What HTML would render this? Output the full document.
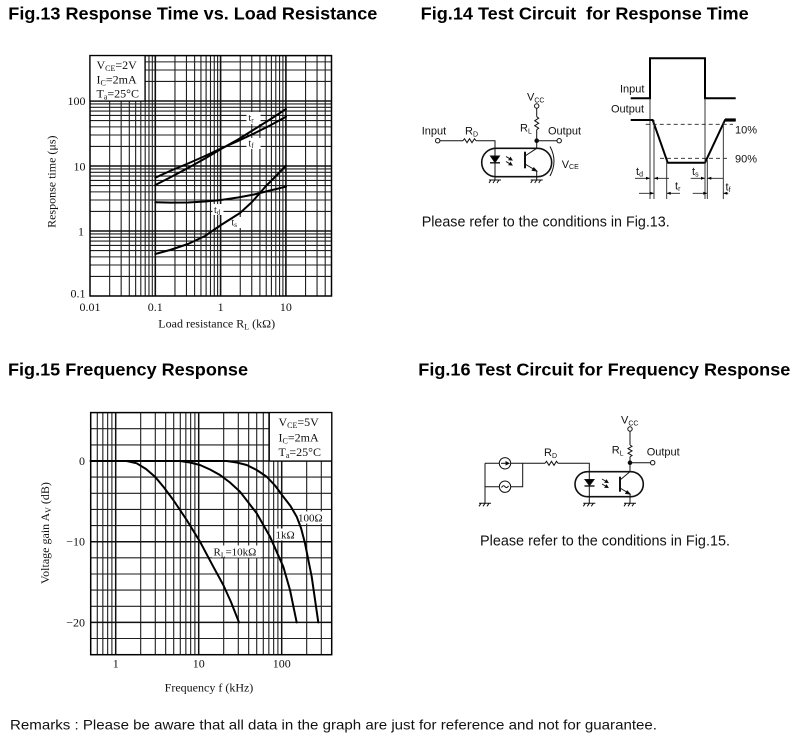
<!DOCTYPE html>
<html><head><meta charset="utf-8"><style>
html,body{margin:0;padding:0;background:#fff;}
svg{display:block;}
.t{font-family:"Liberation Sans",Arial,sans-serif;font-weight:bold;font-size:17.5px;fill:#000;}
.s{font-family:"Liberation Serif","Times New Roman",serif;font-size:12px;fill:#111;}
.a{font-family:"Liberation Sans",Arial,sans-serif;font-size:11px;fill:#111;}
.g{stroke:#1e1e1e;stroke-width:1.1;fill:none;}
.c{stroke:#000;stroke-width:2;fill:none;stroke-linejoin:round;stroke-linecap:round;}
.w{stroke:#111;stroke-width:1;fill:none;}
</style></head><body>
<svg width="800" height="742" viewBox="0 0 800 742" xmlns="http://www.w3.org/2000/svg">
<rect width="800" height="742" fill="#fff"/>

<!-- Titles -->
<text class="t" x="8.3" y="19.3" textLength="369" lengthAdjust="spacingAndGlyphs">Fig.13 Response Time vs. Load Resistance</text>
<text class="t" x="420.7" y="19.3" textLength="328" lengthAdjust="spacingAndGlyphs" xml:space="preserve">Fig.14 Test Circuit  for Response Time</text>
<text class="t" x="8" y="375.3" textLength="240" lengthAdjust="spacingAndGlyphs">Fig.15 Frequency Response</text>
<text class="t" x="418.3" y="375.5" textLength="372" lengthAdjust="spacingAndGlyphs">Fig.16 Test Circuit for Frequency Response</text>

<!-- ================= FIG 13 ================= -->
<g class="g">
<path d="M109.66 55.6V296M121.16 55.6V296M129.31 55.6V296M135.64 55.6V296M140.81 55.6V296M145.19 55.6V296M148.97 55.6V296M152.31 55.6V296M174.96 55.6V296M186.46 55.6V296M194.61 55.6V296M200.94 55.6V296M206.11 55.6V296M210.49 55.6V296M214.27 55.6V296M217.61 55.6V296M240.26 55.6V296M251.76 55.6V296M259.91 55.6V296M266.24 55.6V296M271.41 55.6V296M275.79 55.6V296M279.57 55.6V296M282.91 55.6V296M305.56 55.6V296M317.06 55.6V296M325.21 55.6V296"/>
<path d="M90 276.43H331.5M90 264.99H331.5M90 256.87H331.5M90 250.57H331.5M90 245.42H331.5M90 241.07H331.5M90 237.3H331.5M90 233.97H331.5M90 211.43H331.5M90 199.99H331.5M90 191.87H331.5M90 185.57H331.5M90 180.42H331.5M90 176.07H331.5M90 172.3H331.5M90 168.97H331.5M90 146.43H331.5M90 134.99H331.5M90 126.87H331.5M90 120.57H331.5M90 115.42H331.5M90 111.07H331.5M90 107.3H331.5M90 103.97H331.5M90 81.43H331.5M90 69.99H331.5M90 61.87H331.5"/>
</g>
<g stroke="#111" stroke-width="1.6" fill="none">
<path d="M155.3 55.6V296M220.6 55.6V296M285.9 55.6V296M90 231H331.5M90 166H331.5M90 101H331.5"/>
</g>
<rect x="90" y="55.6" width="241.5" height="240.4" fill="none" stroke="#000" stroke-width="1.5"/>
<!-- legend -->
<rect x="90" y="55.6" width="55" height="45.4" fill="#fff" stroke="#000" stroke-width="1.2"/>
<text class="s" x="96.5" y="69">V<tspan font-size="8" dy="2">CE</tspan><tspan dy="-2">=2V</tspan></text>
<text class="s" x="96.5" y="83.5">I<tspan font-size="8" dy="2">C</tspan><tspan dy="-2">=2mA</tspan></text>
<text class="s" x="96.5" y="97.5">T<tspan font-size="8" dy="2">a</tspan><tspan dy="-2">=25°C</tspan></text>
<!-- curve label boxes (under curves) -->
<rect x="246.5" y="112" width="14" height="12" fill="#fff"/>
<rect x="246.5" y="138" width="14" height="11" fill="#fff"/>
<rect x="212.5" y="204" width="11" height="11" fill="#fff"/>
<rect x="230" y="217" width="11" height="11" fill="#fff"/>
<!-- curves -->
<polyline class="c" points="155.3,185 170,177.5 188,168 205,158.5 221,149 238,139.5 254,129.5 270,119.5 286,109"/>
<polyline class="c" points="155.3,177.7 170,171 188,163.5 205,156 221,148.5 238,141 254,133.5 270,125.5 286,116.7"/>
<polyline class="c" points="155.3,202.3 170,202.6 188,202.5 205,201.5 221,200 238,197.5 254,194.5 270,190.5 286,186.7"/>
<polyline class="c" points="155.3,254 170,250 188,244 205,236 221,225 240,213 252,202 266,186 276,176 286,165.7"/>
<!-- curve labels -->
<text class="s" x="248.5" y="121" style="font-size:10px">t<tspan font-size="7" dy="1.5">r</tspan></text>
<text class="s" x="248.5" y="146.5" style="font-size:10px">t<tspan font-size="7" dy="1.5">f</tspan></text>
<text class="s" x="214" y="213" style="font-size:10px">t<tspan font-size="7" dy="1.5">d</tspan></text>
<text class="s" x="231.5" y="225.5" style="font-size:10px">t<tspan font-size="7" dy="1.5">s</tspan></text>
<!-- ticks -->
<g class="s" text-anchor="end">
<text x="85.5" y="105">100</text>
<text x="85.5" y="170.5">10</text>
<text x="84" y="235.5">1</text>
<text x="85.5" y="297.5">0.1</text>
</g>
<g class="s" text-anchor="middle">
<text x="90" y="311">0.01</text>
<text x="155.3" y="311">0.1</text>
<text x="220.6" y="311">1</text>
<text x="285.9" y="311">10</text>
<text x="216.7" y="327.5">Load resistance R<tspan font-size="8" dy="2">L</tspan><tspan dy="-2"> (kΩ)</tspan></text>
</g>
<text class="s" text-anchor="middle" transform="translate(55.7,181.7) rotate(-90)">Response time (μs)</text>

<!-- ================= FIG 14 ================= -->
<g class="w">
<circle cx="437.7" cy="140.7" r="2.2" fill="#fff"/>
<path d="M440 140.7H463"/>
<path d="M463 140.7l1.5 -2l2.5 4l2.5 -4l2.5 4l2.5 -4l1.5 2"/>
<path d="M476 140.7H495V180"/>
<rect x="481.7" y="148.3" width="70" height="28.4" rx="14.2" stroke-width="1.6"/>
<path d="M490.5 156H499.5L495 162.5Z" fill="#000"/>
<path d="M490 162.8H500" stroke-width="1.4"/>
<path d="M506 156.5l6 3.5M506 161.5l6 3.5"/>
<path d="M512 160l-3 -0.2l1.5 -2.2Z M512 165l-3 -0.2l1.5 -2.2Z" fill="#000"/>
<path d="M525 151.7V168.3" stroke-width="2"/>
<path d="M525 156L536.7 148.3V140.7"/>
<path d="M525 164L536.7 171V180"/>
<path d="M536.7 171l-4.5 -0.6l1.6 -2.6Z" fill="#000"/>
<circle cx="536.7" cy="140.7" r="1.8" fill="#000"/>
<path d="M536.7 108.3V116.7"/>
<path d="M536.7 116.7l2 1.5l-4 2.5l4 2.5l-4 2.5l4 2.5l-2 1.5"/>
<path d="M536.7 129.7V140.7H557"/>
<circle cx="536.7" cy="106" r="2.2" fill="#fff"/>
<circle cx="559.2" cy="140.7" r="2.2" fill="#fff"/>
<path d="M550 146.5Q558 161 550 176"/>
<path d="M489 180H501M491 180l-2 3M495 180l-2 3M499 180l-2 3"/>
<path d="M530.7 180H542.7M532.7 180l-2 3M536.7 180l-2 3M540.7 180l-2 3"/>
</g>
<text class="a" x="421.7" y="134.5">Input</text>
<text class="a" x="465" y="134.5">R<tspan font-size="7" dy="2">D</tspan></text>
<text class="a" x="520" y="131.5">R<tspan font-size="7" dy="2">L</tspan></text>
<text class="a" x="527" y="100.5">V<tspan font-size="7" dy="2">CC</tspan></text>
<text class="a" x="548" y="134.5">Output</text>
<text class="a" x="561.7" y="168">V<tspan font-size="7" dy="1">CE</tspan></text>

<!-- waveforms -->
<path d="M630.7 98.3H650V58.3H705V98.3H735.7" stroke="#000" stroke-width="2" fill="none"/>
<path d="M630.7 120H652.7L667.7 162.7H705L725 120H735.7" stroke="#000" stroke-width="2" fill="none" stroke-linejoin="round"/>
<path d="M725 120H735.7" stroke="#000" stroke-width="3.2"/>
<g stroke="#222" stroke-width="0.9" fill="none">
<path d="M645.7 124.3H733" stroke-dasharray="4,3"/>
<path d="M660 158.3H730" stroke-dasharray="4,3"/>
<path d="M650 98.3V199M654 120V199M666.7 160V199M705 98.3V199M707.3 160V199M723.3 122V199"/>
<path d="M635 178.3H650M669 178.3H654M690.7 178.3H705M723 178.3H707.3M639 193.3H654M680 193.3H666.7M692.7 193.3H707.3M728.3 193.3H723.3"/>
</g>
<g fill="#000">
<path d="M650 178.3l-4 -1.5v3Z M654 178.3l4 -1.5v3Z M705 178.3l-4 -1.5v3Z M707.3 178.3l4 -1.5v3Z"/>
<path d="M654 193.3l-4 -1.5v3Z M666.7 193.3l4 -1.5v3Z M707.3 193.3l-4 -1.5v3Z M723.3 193.3l4 -1.5v3Z"/>
</g>
<text class="a" x="620" y="92.5">Input</text>
<text class="a" x="611" y="112.5">Output</text>
<text class="a" x="735" y="133.5">10%</text>
<text class="a" x="735" y="162.5">90%</text>
<text class="a" x="636" y="175">t<tspan font-size="7" dy="1.5">d</tspan></text>
<text class="a" x="675" y="189.5">t<tspan font-size="7" dy="1.5">r</tspan></text>
<text class="a" x="692" y="175">t<tspan font-size="7" dy="1.5">s</tspan></text>
<text class="a" x="725.5" y="190.5">t<tspan font-size="7" dy="1.5">f</tspan></text>

<text class="a" x="421.7" y="226.5" style="font-size:14.5px" textLength="248" lengthAdjust="spacingAndGlyphs">Please refer to the conditions in Fig.13.</text>

<!-- ================= FIG 15 ================= -->
<g class="g">
<path d="M97.29 412.6V654.7M102.84 412.6V654.7M107.66 412.6V654.7M111.9 412.6V654.7M140.69 412.6V654.7M155.3 412.6V654.7M165.67 412.6V654.7M173.71 412.6V654.7M180.29 412.6V654.7M185.84 412.6V654.7M190.66 412.6V654.7M194.9 412.6V654.7M223.69 412.6V654.7M238.3 412.6V654.7M248.67 412.6V654.7M256.71 412.6V654.7M263.29 412.6V654.7M268.84 412.6V654.7M273.66 412.6V654.7M277.9 412.6V654.7M306.69 412.6V654.7M321.3 412.6V654.7"/>
<path d="M90.7 428.7H331.7M90.7 444.9H331.7M90.7 477.1H331.7M90.7 493.3H331.7M90.7 509.4H331.7M90.7 525.6H331.7M90.7 557.8H331.7M90.7 574H331.7M90.7 590.1H331.7M90.7 606.3H331.7M90.7 638.5H331.7"/>
</g>
<g stroke="#111" stroke-width="1.5" fill="none">
<path d="M115.7 412.6V654.7M198.7 412.6V654.7M281.7 412.6V654.7M90.7 461H331.7M90.7 541.7H331.7M90.7 622.4H331.7"/>
</g>
<rect x="90.7" y="412.6" width="241" height="242.1" fill="none" stroke="#000" stroke-width="1.5"/>
<rect x="269.3" y="412.6" width="62.4" height="48.4" fill="#fff" stroke="#000" stroke-width="1.2"/>
<text class="s" x="278.5" y="426">V<tspan font-size="8" dy="2">CE</tspan><tspan dy="-2">=5V</tspan></text>
<text class="s" x="278.5" y="441.5">I<tspan font-size="8" dy="2">C</tspan><tspan dy="-2">=2mA</tspan></text>
<text class="s" x="278.5" y="456">T<tspan font-size="8" dy="2">a</tspan><tspan dy="-2">=25°C</tspan></text>
<rect x="297" y="511.5" width="29" height="12" fill="#fff"/>
<rect x="274.5" y="528.5" width="21" height="12" fill="#fff"/>
<rect x="212" y="545.5" width="49" height="12" fill="#fff"/>
<polyline class="c" points="90.7,461 126.7,461 136.7,463.3 146,469 155,476.7 164,487.5 173.3,500 186.7,520 200,541.7 213.3,566.7 223.3,585 231,602 239,622.4"/>
<polyline class="c" points="90.7,461 180,461 190,462.5 200,465 210,469.5 220,475 230,482.5 240,491.7 256.7,513.3 270,536.7 283.3,566.7 290,590 296.7,622.4"/>
<polyline class="c" points="90.7,461 226.7,461 236.7,462.5 246.7,465 256.7,470 266.7,476.7 275,485.5 283.3,496.7 290.5,506 296.7,516.7 301,528 305,543.3 311.7,576.7 318.3,622.4"/>
<text class="s" x="298" y="521.5" style="font-size:11px">100Ω</text>
<text class="s" x="275.5" y="538.5" style="font-size:11px">1kΩ</text>
<text class="s" x="213.5" y="555.5" style="font-size:11px">R<tspan font-size="7.5" dy="2">L</tspan><tspan dy="-2">=10kΩ</tspan></text>
<g class="s" text-anchor="end">
<text x="85" y="465">0</text>
<text x="85" y="545.7">−10</text>
<text x="85" y="626.4">−20</text>
</g>
<g class="s" text-anchor="middle">
<text x="115.7" y="667.5">1</text>
<text x="198.7" y="667.5">10</text>
<text x="281.7" y="667.5">100</text>
<text x="209" y="691.5">Frequency f (kHz)</text>
</g>
<text class="s" text-anchor="middle" transform="translate(49,533) rotate(-90)">Voltage gain A<tspan font-size="8" dy="2">V</tspan><tspan dy="-2"> (dB)</tspan></text>

<!-- ================= FIG 16 ================= -->
<g class="w">
<path d="M485 463.3V503.3M485 463.3H545M485 486.7H522.7V463.3"/>
<path d="M545 463.3l1.5 -2l2.5 4l2.5 -4l2.5 4l2.5 -4l1.5 2"/>
<path d="M558 463.3H589.3V503.3"/>
<circle cx="505" cy="463.3" r="5.7" fill="#fff"/>
<circle cx="505" cy="486.7" r="5.7" fill="#fff"/>
<path d="M501 463.3H508"/>
<path d="M509 463.3l-3 -1.5v3Z" fill="#000"/>
<path d="M501.5 487.5q1.7 -3 3.5 -0.8t3.5 -0.8"/>
<rect x="575" y="471.7" width="68.3" height="25" rx="12.5" stroke-width="1.6"/>
<path d="M585 479.5H594L589.5 485.5Z" fill="#000"/>
<path d="M584.5 486H594.5" stroke-width="1.4"/>
<path d="M602 479l6 3.5M602 484l6 3.5"/>
<path d="M608 482.5l-3 -0.2l1.5 -2.2Z M608 487.5l-3 -0.2l1.5 -2.2Z" fill="#000"/>
<path d="M620 476.7V491.7" stroke-width="2"/>
<path d="M620 480L630 471.7V462.7"/>
<path d="M620 488L630 494V503.3"/>
<path d="M630 494l-4.3 -0.5l1.5 -2.5Z" fill="#000"/>
<circle cx="630" cy="462.7" r="1.8" fill="#000"/>
<path d="M630 431.2V445"/>
<path d="M630 445l2 1.3l-4 2.3l4 2.3l-4 2.3l4 2.3l-2 1.2"/>
<path d="M630 456.7V462.7H650.5"/>
<circle cx="630" cy="429" r="2.2" fill="#fff"/>
<circle cx="652.7" cy="462.7" r="2.2" fill="#fff"/>
<path d="M479 503.3H491M481 503.3l-2 3M485 503.3l-2 3M489 503.3l-2 3"/>
<path d="M583.3 503.3H595.3M585.3 503.3l-2 3M589.3 503.3l-2 3M593.3 503.3l-2 3"/>
<path d="M624 503.3H636M626 503.3l-2 3M630 503.3l-2 3M634 503.3l-2 3"/>
</g>
<text class="a" x="544" y="456">R<tspan font-size="7" dy="2">D</tspan></text>
<text class="a" x="611.7" y="453.5">R<tspan font-size="7" dy="2">L</tspan></text>
<text class="a" x="621" y="423.5">V<tspan font-size="7" dy="2">CC</tspan></text>
<text class="a" x="646.7" y="455.5">Output</text>

<text class="a" x="480" y="545.5" style="font-size:14.5px" textLength="250" lengthAdjust="spacingAndGlyphs">Please refer to the conditions in Fig.15.</text>

<!-- Remarks -->
<text class="a" x="10" y="729.5" style="font-size:14px" textLength="647" lengthAdjust="spacingAndGlyphs">Remarks : Please be aware that all data in the graph are just for reference and not for guarantee.</text>
</svg>
</body></html>
